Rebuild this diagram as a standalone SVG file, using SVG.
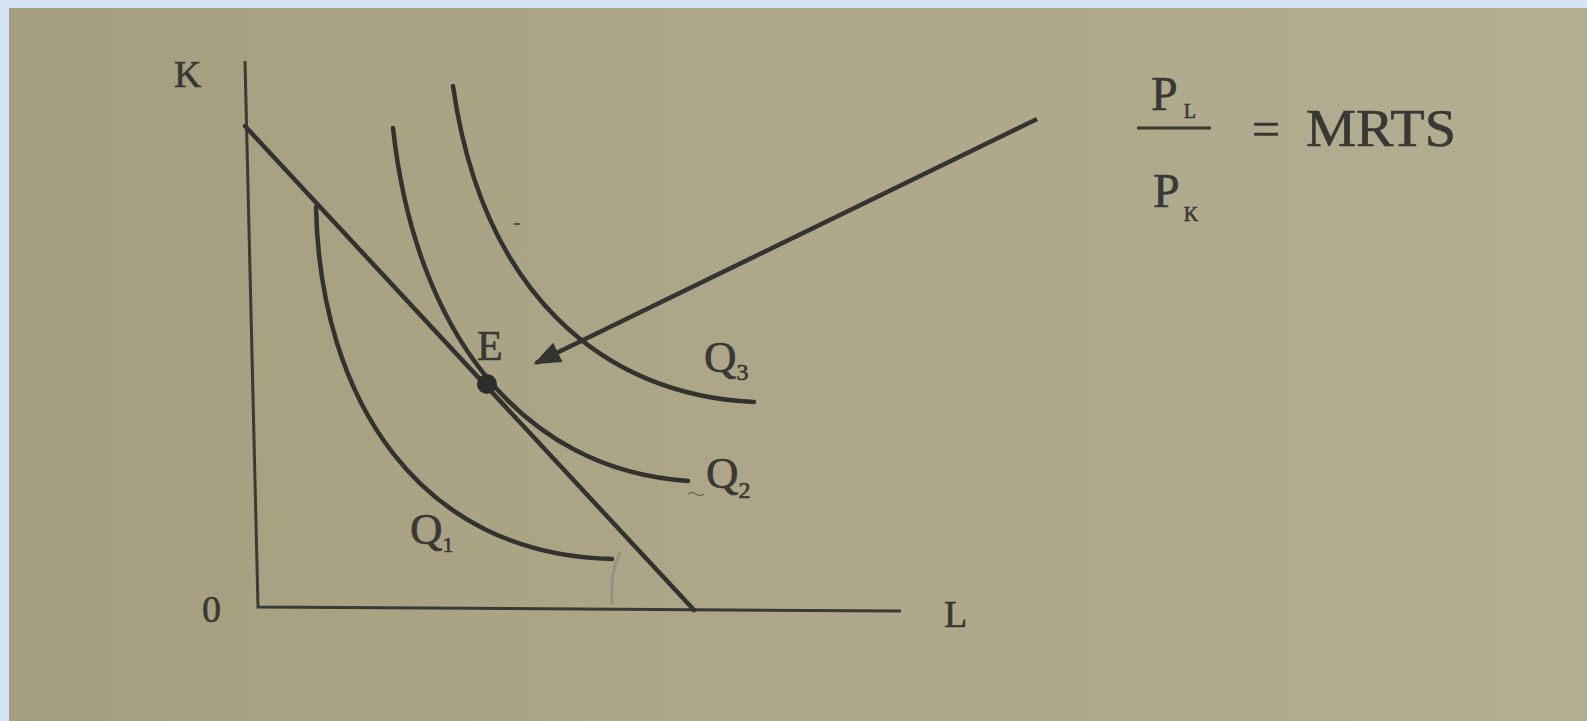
<svg xmlns="http://www.w3.org/2000/svg" width="1587" height="721" viewBox="0 0 1587 721">
<defs>
<linearGradient id="bg" x1="0" y1="0" x2="1" y2="0">
<stop offset="0" stop-color="#a49e7f"/>
<stop offset="0.5" stop-color="#aea789"/>
<stop offset="1" stop-color="#b3ad92"/>
</linearGradient>
<marker id="ah" viewBox="0 0 10 10" refX="9" refY="5" markerWidth="8" markerHeight="6" orient="auto" markerUnits="strokeWidth">
<path d="M0,1 L10,5 L0,9 z" fill="#333330"/>
</marker>
<style>
.ln{fill:none;stroke:#33322f;stroke-width:4.5;stroke-linecap:round}
.ax{fill:none;stroke:#3b3a37;stroke-width:3}
.t{font-family:"Liberation Serif","Times New Roman",serif;fill:#393835;stroke:#393835;stroke-width:0.6}
</style>
</defs>
<rect width="1587" height="721" fill="#d6e5f6"/>
<rect x="9" y="8" width="1578" height="713" fill="url(#bg)"/>
<g id="axes">
<path class="ax" d="M245,61 L258,607 L901,611"/>
</g>
<g id="budget-line"><path class="ln" d="M245,126 L694,610"/></g>
<g id="Q1"><path class="ln" d="M316,207 C320,400 420,555 612,559"/></g>
<g id="Q2"><path class="ln" d="M393,128 C415,330 520,470 688,481"/></g>
<g id="Q3"><path class="ln" d="M453,86 C482,290 600,395 754,402"/></g>
<g id="E"><circle cx="487" cy="384" r="10" fill="#2e2d2b"/></g>
<path d="M620,552 C612,570 610,585 612,604" fill="none" stroke="#8c8a84" stroke-width="3" opacity="0.7"/>
<path d="M688,494 q4,-3 8,0 q4,3 8,0" fill="none" stroke="#6a6862" stroke-width="1.5"/>
<path d="M514,224 L520,224" stroke="#55534e" stroke-width="2"/>
<g id="connectors">
<path d="M1037,119 L536,363" fill="none" stroke="#353431" stroke-width="4.5" marker-end="url(#ah)"/>
</g>
<g id="labels">
<text class="t" x="174" y="87" font-size="38">K</text>
<text class="t" x="202" y="622" font-size="38">0</text>
<text class="t" x="944" y="627" font-size="38">L</text>
<text class="t" x="477" y="360" font-size="42">E</text>
<text class="t" x="704" y="372" font-size="45">Q<tspan font-size="24" dy="8">3</tspan></text>
<text class="t" x="706" y="488" font-size="45">Q<tspan font-size="24" dy="10">2</tspan></text>
<text class="t" x="410" y="544" font-size="45">Q<tspan font-size="22" dy="8">1</tspan></text>
</g>
<g id="formula">
<text class="t" x="1151" y="110" font-size="48">P<tspan font-size="20" dx="6" dy="8">L</tspan></text>
<path d="M1137,128 L1211,128" stroke="#3a3936" stroke-width="3"/>
<text class="t" x="1153" y="207" font-size="48">P<tspan font-size="20" dx="4" dy="14">K</tspan></text>
<text class="t" x="1252" y="146" font-size="50">=</text>
<text class="t" x="1306" y="146" font-size="52" textLength="150" lengthAdjust="spacingAndGlyphs">MRTS</text>
</g>
</svg>
